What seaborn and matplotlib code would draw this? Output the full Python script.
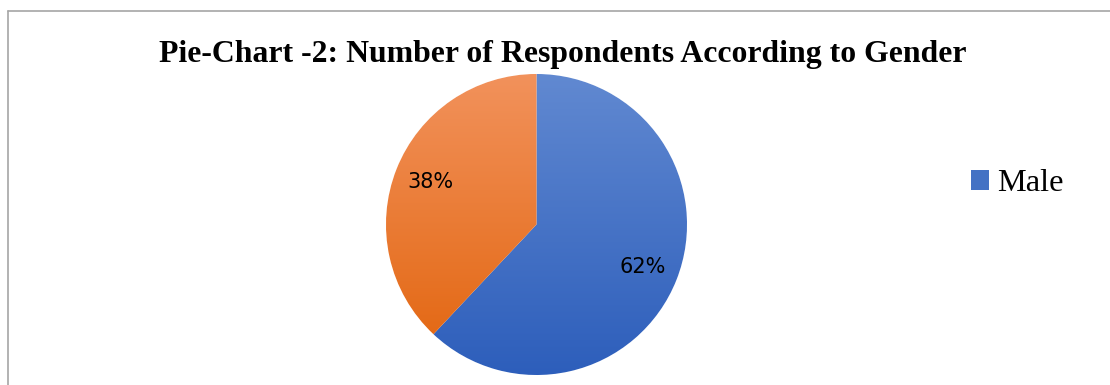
import numpy as np
import matplotlib
matplotlib.use("Agg")
import matplotlib.pyplot as plt
from matplotlib.colors import LinearSegmentedColormap
from matplotlib.patches import Patch
from matplotlib.lines import Line2D
import seaborn as sns

# Data
categories = ["Male", "Female"]
shares = [62, 38]
title_text = "Pie-Chart -2: Number of Respondents According to Gender"

sns.set_style("white")

W, H = 1110, 385
fig = plt.figure(figsize=(W / 100, H / 100), dpi=100)
fig.patch.set_facecolor("white")

# Pie axes (square in pixels)
cx, cy, r = 536.5, 224.5, 150.5
ax = fig.add_axes([(cx - r) / W, (H - cy - r) / H, 2 * r / W, 2 * r / H])

grad_colors = [("#6189D1", "#2D5EBB"), ("#F2925C", "#E46A17")]
mid_colors = ["#4472C4", "#ED7D31"]

wedges, texts, autotexts = ax.pie(
    shares, colors=mid_colors, startangle=90, counterclock=False,
    autopct="%1.0f%%", pctdistance=0.76,
    textprops=dict(fontsize=15, family="DejaVu Sans", color="black"),
)
ax.set_xlim(-1, 1)
ax.set_ylim(-1, 1)
ax.set_aspect("equal")
ax.axis("off")

# vertical gradient fill per slice, clipped to the wedge
for w, (top, bot) in zip(wedges, grad_colors):
    ext = w.get_path().get_extents()
    cmap = LinearSegmentedColormap.from_list("g", [top, bot])
    grad = np.linspace(0, 1, 256).reshape(-1, 1)
    im = ax.imshow(grad, cmap=cmap, aspect="auto",
                   extent=[ext.x0, ext.x1, ext.y0, ext.y1], origin="upper",
                   zorder=w.get_zorder() + 0.1)
    im.set_clip_path(w)
for t in autotexts:
    t.set_zorder(5)
ax.set_xlim(-1, 1)
ax.set_ylim(-1, 1)

# Title
fig.text(563 / W, 1 - 62 / H, title_text, ha="center", va="baseline",
         fontsize=22.9, fontweight="bold", family="Liberation Serif",
         color="black")

# Legend (only first entry visible)
handle = Patch(facecolor=mid_colors[0], edgecolor="none")
leg = fig.legend([handle], [categories[0]], loc="center left",
                 bbox_to_anchor=(971 / W, 1 - 184 / H), frameon=False,
                 prop=dict(family="Liberation Serif", size=23.3),
                 handlelength=0.55, handleheight=0.55, handletextpad=0.25,
                 borderpad=0, borderaxespad=0)
for t in leg.get_texts():
    t.set_color("black")

# Chart border (top & left visible)
fig.add_artist(Line2D([8 / W, 1.0], [1 - 10.5 / H, 1 - 10.5 / H],
                      transform=fig.transFigure, color="#A6A6A6", lw=1.2))
fig.add_artist(Line2D([8 / W, 8 / W], [0, 1 - 10.5 / H],
                      transform=fig.transFigure, color="#A6A6A6", lw=1.2))

fig.savefig("out.png", dpi=100)
